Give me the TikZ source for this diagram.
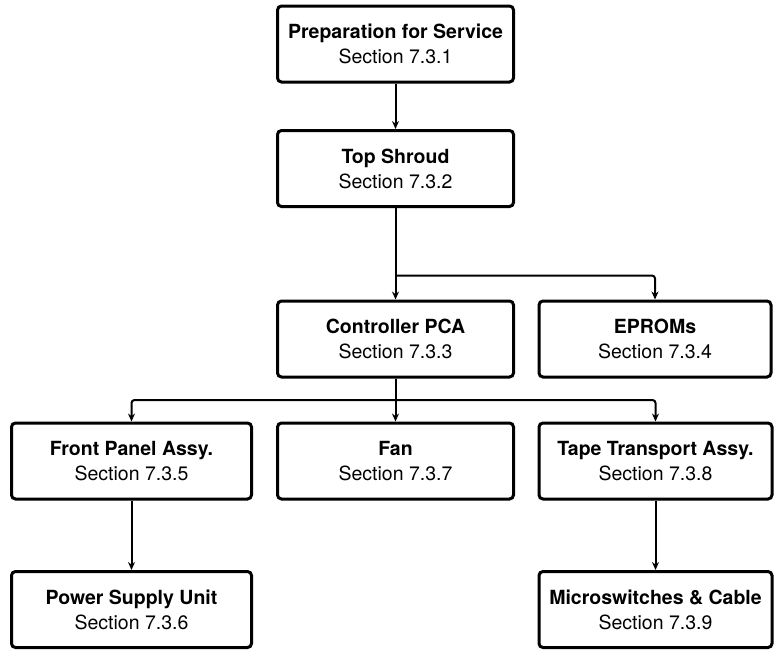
\documentclass[tikz,border=0pt]{standalone}
\usepackage{fontspec}
\setmainfont{TeX Gyre Heros}
\usepackage{tikz}
\usetikzlibrary{arrows.meta,positioning,calc}
\tikzstyle{flowarrow} = [line width=2pt,-{Stealth[length=8pt,width=7pt]}]

\begin{document}
\begin{tikzpicture}[x=1pt, y=-1pt,
    every node/.style={font=\fontsize{19.5}{25}\selectfont, inner sep=1pt}]

    \tikzstyle{secbox}=[rectangle, draw, line width=3pt, rounded corners=4pt, minimum width=236pt, minimum height=76pt, align=center, text=black]
    \tikzstyle{branch}=[line width=2pt, rounded corners=3pt, -{Stealth[length=8pt,width=7pt]}]

    \useasboundingbox (0,0) rectangle (774,649);

    \node[secbox] (prep) at (395.5,44) {\textbf{Preparation for Service}\\Section 7.3.1};
    \node[secbox] (shroud) at (395.5,168.5) {\textbf{Top Shroud}\\Section 7.3.2};

    \node[secbox] (ctrl) at (395.5,339) {\textbf{Controller PCA}\\Section 7.3.3};
    \node[secbox, minimum width=232pt] (eproms) at (655,339) {\textbf{EPROMs}\\Section 7.3.4};

    \node[secbox, minimum width=240pt] (front) at (131.5,461) {\textbf{Front Panel Assy.}\\Section 7.3.5};
    \node[secbox] (fan) at (395.5,461) {\textbf{Fan}\\Section 7.3.7};
    \node[secbox, minimum width=233pt] (tape) at (655.5,461) {\textbf{Tape Transport Assy.}\\Section 7.3.8};

    \node[secbox, minimum width=240pt] (psu) at (131.5,609.5) {\textbf{Power Supply Unit}\\Section 7.3.6};
    \node[secbox, minimum width=233pt] (micro) at (655.5,609.5) {\textbf{Microswitches \& Cable}\\Section 7.3.9};

    % branch points
    \coordinate (split1) at ($(ctrl.north)+(0,-24)$);
    \coordinate (split2) at ($(ctrl.south)!0.5!(fan.north)$);

    \draw[flowarrow] (prep) -- (shroud);
    \draw[flowarrow] (shroud) -- (ctrl);
    \draw[branch] (split1) -| (eproms.north);

    \draw[flowarrow] (ctrl) -- (fan);
    \draw[branch] (split2) -| (front.north);
    \draw[branch] (split2) -| (tape.north);

    \draw[flowarrow] (front) -- (psu);
    \draw[flowarrow] (tape) -- (micro);

\end{tikzpicture}
\end{document}
